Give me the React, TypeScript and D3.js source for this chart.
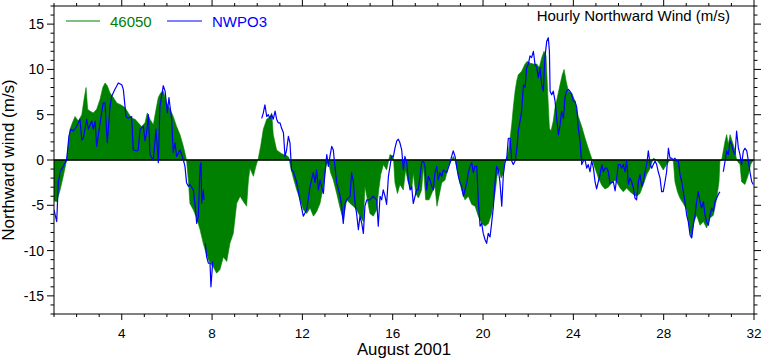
import React from "react";
import * as d3 from "d3";

// ---------- data ----------
const greenDays = [1.00,1.12,1.27,1.41,1.56,1.71,1.78,1.93,2.08,2.23,2.33,2.42,2.49,2.59,2.74,2.89,3.04,3.16,3.26,3.36,3.48,3.63,3.78,3.95,4.14,4.29,4.44,4.59,4.73,4.88,5.03,5.13,5.25,5.40,5.52,5.62,5.72,5.84,5.99,6.14,6.28,6.43,6.58,6.73,6.87,6.95,7.02,7.17,7.32,7.47,7.61,7.76,7.91,8.06,8.20,8.35,8.50,8.65,8.79,8.94,9.09,9.24,9.39,9.53,9.61,9.68,9.83,9.94,10.05,10.15,10.27,10.42,10.57,10.64,10.71,10.86,11.08,11.30,11.40,11.48,11.60,11.75,11.90,12.04,12.19,12.34,12.49,12.63,12.78,12.93,13.05,13.15,13.25,13.37,13.52,13.67,13.81,13.96,14.11,14.26,14.40,14.55,14.70,14.77,14.88,14.99,15.14,15.29,15.38,15.47,15.59,15.73,15.88,16.03,16.10,16.21,16.32,16.47,16.57,16.69,16.84,16.91,17.02,17.14,17.28,17.36,17.46,17.61,17.76,17.87,17.96,18.05,18.17,18.32,18.46,18.61,18.69,18.79,18.91,19.05,19.20,19.35,19.50,19.65,19.79,19.94,20.09,20.24,20.38,20.53,20.62,20.71,20.80,20.90,20.97,21.05,21.12,21.20,21.27,21.34,21.42,21.49,21.56,21.71,21.86,21.96,22.08,22.23,22.38,22.49,22.60,22.70,22.79,22.86,22.94,23.01,23.11,23.19,23.29,23.41,23.51,23.59,23.68,23.78,23.93,24.07,24.22,24.37,24.52,24.66,24.81,24.96,25.11,25.26,25.40,25.55,25.70,25.85,26.00,26.07,26.21,26.36,26.51,26.66,26.80,26.95,27.10,27.25,27.40,27.54,27.69,27.84,27.98,28.13,28.28,28.43,28.50,28.61,28.72,28.87,29.02,29.14,29.24,29.34,29.46,29.61,29.76,29.90,30.05,30.20,30.35,30.45,30.49,30.57,30.64,30.72,30.79,30.86,30.94,31.08,31.16,31.23,31.38,31.45,31.60,31.75,31.85,31.97];
const greenVals = [-4.5,-4.6,-3.3,-1.8,0,3.4,3.9,4.8,4.3,5.0,6.7,8.0,5.6,5.4,5.2,5.6,6.7,8.0,8.5,8.2,7.4,6.9,6.3,6.1,5.8,5.2,4.6,4.5,4.1,3.7,4.1,5.2,4.5,3.9,5.6,6.9,7.4,7.6,6.3,5.6,4.8,3.7,2.8,1.5,0,-2.2,-4.8,-5.5,-6.4,-7.7,-9.2,-10.5,-11.4,-11.8,-12.5,-12.1,-10.7,-11.2,-9.2,-8.1,-4.8,-4.0,-4.6,-5.1,-2.2,-0.9,-1.8,-0.7,0.2,1.5,3.4,4.5,4.8,5.2,2.8,1.1,0.7,0.5,0.3,-0.8,-2.0,-3.3,-4.4,-5.5,-5.9,-5.3,-6.2,-5.7,-4.8,-2.9,-0.7,-0.1,-1.4,-2.2,-3.7,-5.3,-6.6,-4.4,-4.8,-5.1,-5.5,-6.2,-6.8,-2.9,-4.4,-5.9,-6.2,-5.5,-3.3,-1.6,-0.5,-1.1,0.6,0.4,-2.5,-3.7,-2.7,-3.3,-1.1,-2.5,-3.3,-1.4,-3.7,-4.2,-3.3,-0.7,-4.4,-4.4,-3.5,-2.9,-5.1,-4.0,-2.5,-2.2,-0.7,0,0.4,-0.3,-1.8,-3.3,-4.4,-4.0,-4.9,-5.1,-6.2,-7.0,-7.3,-7.0,-5.9,-3.7,-1.8,-1.1,-2.0,-1.5,0,0.2,1.0,2.4,3.9,5.8,7.6,8.7,9.4,9.8,10.6,10.9,10.7,10.6,10.6,10.2,11.3,12.0,11.5,7.6,3.5,3.2,4.3,5.8,6.9,8.3,9.4,10.0,8.7,7.6,7.4,6.5,4.8,3.7,2.4,1.3,0.2,-0.9,-2.0,-2.8,-3.2,-3.0,-2.5,-2.2,-2.8,-3.1,-3.5,-3.1,-3.5,-3.8,-4.0,-3.7,-2.7,-1.6,-0.9,0.2,0,-0.5,-1.1,-0.5,0,-0.1,-2.4,-3.5,-4.2,-4.8,-5.5,-7.5,-8.6,-6.8,-6.1,-7.2,-6.8,-7.5,-6.4,-6.1,-4.2,-2.4,-0.1,0,1.0,2.1,2.8,1.7,2.8,1.7,1.0,0,-0.5,-2.4,-2.7,-1.6,-0.5,0];

const blueDays = [1.00,1.12,1.19,1.27,1.41,1.56,1.66,1.74,1.86,2.00,2.15,2.23,2.30,2.45,2.52,2.67,2.74,2.82,2.89,3.04,3.18,3.26,3.36,3.48,3.55,3.70,3.85,4.00,4.07,4.19,4.29,4.44,4.51,4.66,4.73,4.81,4.96,5.03,5.10,5.18,5.25,5.40,5.52,5.62,5.69,5.84,5.92,6.02,6.09,6.14,6.21,6.28,6.36,6.43,6.58,6.73,6.80,6.87,6.95,7.02,7.17,7.24,7.32,7.39,7.47,7.51,7.54,7.61,7.64,7.67,7.70,7.76,7.84,7.91,7.95,8.03,9.00,10.20,10.27,10.34,10.42,10.49,10.57,10.64,10.71,10.79,10.86,10.93,11.01,11.08,11.16,11.23,11.30,11.38,11.45,11.52,11.60,11.75,11.89,12.04,12.19,12.34,12.48,12.56,12.63,12.71,12.78,12.93,13.00,13.08,13.15,13.22,13.30,13.37,13.44,13.52,13.67,13.74,13.81,13.89,13.96,14.11,14.18,14.26,14.33,14.40,14.48,14.55,14.63,14.70,14.77,14.85,14.99,15.14,15.29,15.36,15.44,15.51,15.58,15.66,15.73,15.81,15.88,15.95,16.03,16.10,16.18,16.25,16.32,16.40,16.47,16.54,16.62,16.69,16.77,16.84,16.91,17.06,17.13,17.21,17.28,17.36,17.43,17.50,17.58,17.65,17.73,17.80,17.87,17.95,18.02,18.09,18.17,18.24,18.39,18.54,18.61,18.68,18.76,18.83,18.91,18.98,19.05,19.13,19.28,19.35,19.42,19.50,19.57,19.64,19.72,19.79,19.87,19.94,20.01,20.09,20.16,20.23,20.31,20.38,20.46,20.53,20.60,20.68,20.75,20.83,20.90,20.97,21.05,21.12,21.20,21.27,21.34,21.42,21.49,21.56,21.64,21.71,21.79,21.86,21.93,22.01,22.08,22.15,22.23,22.30,22.38,22.45,22.52,22.60,22.67,22.74,22.82,22.89,22.94,22.97,23.04,23.11,23.19,23.26,23.34,23.41,23.48,23.56,23.63,23.70,23.78,23.85,23.93,24.00,24.07,24.15,24.22,24.30,24.37,24.44,24.52,24.59,24.66,24.74,24.81,24.89,24.96,25.03,25.18,25.26,25.33,25.40,25.48,25.55,25.62,25.77,25.85,25.92,25.99,26.07,26.14,26.21,26.29,26.36,26.44,26.51,26.58,26.66,26.73,26.80,26.88,26.95,27.03,27.10,27.17,27.25,27.32,27.40,27.47,27.54,27.62,27.69,27.76,27.84,27.91,27.98,28.06,28.13,28.21,28.28,28.35,28.43,28.50,28.57,28.65,28.72,28.80,28.87,28.94,29.02,29.09,29.17,29.24,29.31,29.39,29.46,29.53,29.61,29.68,29.76,29.83,29.90,29.98,30.05,30.13,30.20,30.27,30.35,30.42,30.49,30.56,30.64,30.72,30.79,30.86,30.94,31.01,31.08,31.16,31.23,31.31,31.38,31.45,31.53,31.60,31.68,31.75,31.82,31.90,31.97];
const blueVals = [-5.5,-6.8,-2.5,-1.3,-0.7,0,2.6,3.4,3.2,3.7,4.5,2.2,2.4,4.5,3.4,4.3,3.4,4.3,1.5,4.1,6.3,6.3,1.9,5.9,7.0,7.8,8.5,8.3,7.8,4.8,4.6,4.8,1.1,1.0,1.1,3.4,3.7,2.1,3.0,5.0,0.6,0,3.4,-0.3,5.9,8.2,7.6,5.2,6.9,5.9,4.5,0.8,1.9,0.4,1.1,0,-0.7,-2.5,-2.9,-2.7,-3.3,-4.8,-7.0,-6.2,-0.7,-0.3,-4.8,-3.3,-4.4,null,-9.2,-10.7,-11.4,-11.4,-14.0,-11.2,null,4.6,5.2,6.1,4.8,5.0,4.6,5.0,4.5,5.4,4.5,4.1,4.1,3.5,3.0,0.4,1.1,2.6,1.9,-1.1,-1.3,-2.5,-4.4,-6.2,-5.5,-2.9,-1.4,-2.5,-1.1,-3.3,-2.2,-3.7,-1.4,0.6,-0.7,0.4,1.5,1.1,-0.7,-2.5,-4.0,-5.1,-7.0,-4.8,-4.4,-4.0,-1.4,-2.5,-4.8,-5.9,-7.7,-6.2,-7.0,-8.1,-5.1,-4.4,-4.4,-4.0,-4.4,-7.3,-4.0,-4.4,-3.3,-4.0,-4.9,-1.8,-0.7,0.4,0.4,1.3,2.1,2.3,1.9,1.1,-1.1,0.4,-0.3,-2.2,-3.3,-2.9,-4.8,-3.3,-3.3,-1.8,-0.3,-0.1,-0.7,-3.3,-1.8,-2.2,-2.9,-3.3,-1.4,-0.7,-2.2,-1.4,-1.8,-1.1,-1.4,-0.3,0.4,1.0,0.4,-0.7,-1.8,-2.5,-2.9,-4.0,-2.5,-1.4,-0.7,-0.3,-1.4,-0.7,-0.7,-4.4,-7.3,-7.0,-8.1,-8.8,-9.2,-8.1,-8.5,-7.0,-5.1,-2.5,-0.7,-1.1,-2.5,-5.1,-1.6,-0.3,0.2,2.4,2.4,-0.1,-0.5,-0.1,1.0,3.2,4.3,5.4,8.3,8.0,10.2,10.6,11.5,11.3,12.0,10.6,10.2,9.1,10.2,8.3,7.6,11.3,13.1,13.5,12.0,7.6,7.2,7.6,6.5,4.6,2.8,3.9,5.4,4.6,6.9,7.6,7.8,7.6,7.2,6.5,6.5,5.8,3.5,2.0,-0.5,-0.1,0,-0.9,-0.5,-1.3,-0.1,-0.9,-2.4,-3.2,-1.6,-0.5,-1.3,-0.9,-0.9,-1.3,-2.6,-2.4,-3.4,-2.0,-0.5,-0.5,-0.9,-0.5,-1.3,-0.1,-2.7,-2.0,-2.4,-3.1,-4.2,-4.4,-2.4,-1.6,-2.9,-2.4,-1.3,-0.5,1.0,-0.5,-0.9,-0.5,-0.1,-0.5,-1.3,-2.0,-3.5,-3.5,-2.4,-1.3,1.3,0.2,0.2,0,0.2,-0.1,-0.1,-1.6,-2.4,-3.5,-4.6,-6.1,-6.8,-8.3,-8.6,-7.2,-6.1,-4.6,-3.5,-4.6,-5.3,-4.6,-6.1,-6.8,-7.2,-6.1,-5.3,-5.7,-4.6,-4.2,-3.8,-3.5,null,-1.3,-0.1,1.0,0.6,2.1,1.7,1.0,0.6,3.2,1.3,0.6,-0.5,1.0,1.3,1.0,-0.1,-1.3,-2.4,-2.7];

const xMajorTicks = [4, 8, 12, 16, 20, 24, 28, 32];
const yMajorTicks = [-15, -10, -5, 0, 5, 10, 15];
const seriesNames = ["46050", "NWPO3"];
const seriesColors = ["#008000", "#0000ff"];
const titleText = "Hourly Northward Wind (m/s)";
const xTitle = "August 2001";
const yTitle = "Northward wind (m/s)";

const W = 762, H = 359;
const L = 54, R = 754, T = 6, B = 314;
const FONT = "'Liberation Sans', Arial, Helvetica, sans-serif";

export default function App() {
  const x = d3.scaleLinear().domain([1, 32]).range([L, R]);
  const y = d3.scaleLinear().domain([-17, 17]).range([B, T]);

  const green = greenDays.map((d, i) => ({ d, v: greenVals[i] }));
  const blue = blueDays.map((d, i) => ({ d, v: blueVals[i] }));

  const area = d3.area<{ d: number; v: number }>()
    .x(p => x(p.d)).y0(y(0)).y1(p => y(p.v));
  const line = d3.line<{ d: number; v: number | null }>()
    .defined(p => p.v !== null)
    .x(p => x(p.d)).y(p => y(p.v as number));

  const xMinor = d3.range(1, 33);
  const yMinor = d3.range(-17, 18);

  return (
    <svg width={W} height={H} style={{ position: "fixed", left: 0, top: 0, background: "#fff" }}
      fontFamily={FONT}>
      <rect x={0} y={0} width={W} height={H} fill="#fff" />
      <defs>
        <clipPath id="plotClip"><rect x={L} y={T} width={R - L} height={B - T} /></clipPath>
      </defs>
      <g clipPath="url(#plotClip)">
        <path d={area(green) || ""} fill={seriesColors[0]} stroke={seriesColors[0]} strokeWidth={0.6} />
        <line x1={L} x2={R} y1={y(0)} y2={y(0)} stroke="#000" strokeWidth={1.3} />
        <path d={line(blue) || ""} fill="none" stroke={seriesColors[1]} strokeWidth={1.2} strokeLinejoin="round" />
      </g>
      {/* frame */}
      <rect x={L} y={T} width={R - L} height={B - T} fill="none" stroke="#000" strokeWidth={1} />
      {/* x ticks bottom & top */}
      {xMinor.map(t => {
        const major = xMajorTicks.includes(t);
        const len = major ? 6 : 3;
        return (
          <g key={"xt" + t}>
            <line x1={x(t)} x2={x(t)} y1={B} y2={B + len} stroke="#000" strokeWidth={1} />
            <line x1={x(t)} x2={x(t)} y1={T} y2={T - len} stroke="#000" strokeWidth={1} />
          </g>
        );
      })}
      {yMinor.map(t => {
        const major = yMajorTicks.includes(t);
        const len = major ? 7 : 3.5;
        return (
          <g key={"yt" + t}>
            <line x1={L} x2={L - len} y1={y(t)} y2={y(t)} stroke="#000" strokeWidth={1} />
            <line x1={R} x2={R + len} y1={y(t)} y2={y(t)} stroke="#000" strokeWidth={1} />
          </g>
        );
      })}
      {xMajorTicks.map(t => (
        <text key={"xl" + t} x={x(t)} y={338} textAnchor="middle" fontSize={13.5} fill="#000">{t}</text>
      ))}
      {yMajorTicks.map(t => (
        <text key={"yl" + t} x={44} y={y(t)} dy="0.36em" textAnchor="end" fontSize={14} fill="#000">{t}</text>
      ))}
      <text x={(L + R) / 2} y={355.3} textAnchor="middle" fontSize={16.8} fill="#000">{xTitle}</text>
      <text transform={`translate(14,${(T + B) / 2}) rotate(-90)`} textAnchor="middle" fontSize={17} fill="#000">{yTitle}</text>
      <text x={730} y={21} textAnchor="end" fontSize={15} fill="#000">{titleText}</text>
      {/* legend */}
      <line x1={66} x2={100} y1={21} y2={21} stroke={seriesColors[0]} strokeWidth={1.2} />
      <text x={110} y={26.5} fontSize={15} fill={seriesColors[0]}>{seriesNames[0]}</text>
      <line x1={167} x2={202} y1={21} y2={21} stroke={seriesColors[1]} strokeWidth={1.2} />
      <text x={212} y={26.5} fontSize={15} fill={seriesColors[1]}>{seriesNames[1]}</text>
    </svg>
  );
}
